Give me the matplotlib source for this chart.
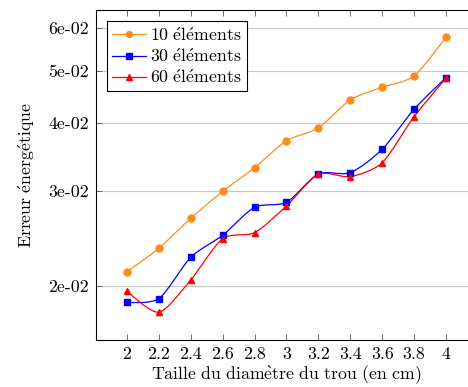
import numpy as np
import matplotlib
matplotlib.use("Agg")
import matplotlib.pyplot as plt
from matplotlib.path import Path
from matplotlib.patches import PathPatch
from matplotlib.lines import Line2D
from matplotlib.ticker import NullLocator

diametres = [2.0, 2.2, 2.4, 2.6, 2.8, 3.0, 3.2, 3.4, 3.6, 3.8, 4.0]

erreur_10 = [0.02126, 0.02348, 0.02668, 0.02993, 0.0331, 0.03713,
             0.0392, 0.04416, 0.04662, 0.04892, 0.05768]
erreur_30 = [0.01866, 0.01895, 0.0226, 0.02482, 0.02796, 0.02857,
             0.03223, 0.0324, 0.0358, 0.04245, 0.04856]
erreur_60 = [0.01958, 0.01788, 0.02052, 0.02447, 0.0251, 0.02812,
             0.03218, 0.03186, 0.03381, 0.04113, 0.04844]

y_ticks = [0.02, 0.03, 0.04, 0.05, 0.06]
y_tick_labels = ["2e-02", "3e-02", "4e-02", "5e-02", "6e-02"]
x_tick_labels = ["2", "2.2", "2.4", "2.6", "2.8", "3", "3.2", "3.4", "3.6", "3.8", "4"]

# textes avec accents en mathtext (police Computer Modern)
noms_series = [r"$\mathrm{10\ \acute{e}l\acute{e}ments}$",
               r"$\mathrm{30\ \acute{e}l\acute{e}ments}$",
               r"$\mathrm{60\ \acute{e}l\acute{e}ments}$"]
titre_x = r"$\mathrm{Taille\ du\ diam\grave{e}tre\ du\ trou\ (en\ cm)}$"
titre_y = r"$\mathrm{Erreur\ \acute{e}nerg\acute{e}tique}$"


def smooth_path(x, y, k=0.13):
    # courbe de Bezier comme "smooth" de TikZ, calculee en espace log pour y
    px = np.array(x, dtype=float)
    py = np.log(np.array(y, dtype=float))
    n = len(px)
    verts = [(px[0], py[0])]
    codes = [Path.MOVETO]
    for i in range(n - 1):
        if i == 0:
            c1 = (px[0], py[0])
        else:
            c1 = (px[i] + k * (px[i + 1] - px[i - 1]),
                  py[i] + k * (py[i + 1] - py[i - 1]))
        if i + 1 == n - 1:
            c2 = (px[i + 1], py[i + 1])
        else:
            c2 = (px[i + 1] - k * (px[i + 2] - px[i]),
                  py[i + 1] - k * (py[i + 2] - py[i]))
        verts += [c1, c2, (px[i + 1], py[i + 1])]
        codes += [Path.CURVE4] * 3
    verts = [(vx, np.exp(vy)) for vx, vy in verts]
    return Path(verts, codes)


def main():
    plt.rcParams['font.family'] = ['cmr10', 'DejaVu Serif']
    plt.rcParams['mathtext.fontset'] = 'cm'
    plt.rcParams['font.size'] = 12.8
    plt.rcParams['axes.unicode_minus'] = False

    fig = plt.figure(figsize=(4.68, 3.87), dpi=100)
    ax = fig.add_axes([96 / 468, 47 / 387, 0.8139, 330 / 387])
    ax.set_yscale("log")

    series = [
        (erreur_10, "#ff8c1a", "o", 5.0),
        (erreur_30, "#0000ff", "s", 4.6),
        (erreur_60, "#ff0000", "^", 5.0),
    ]
    handles = []
    for (values, color, marker, ms), label in zip(series, noms_series):
        patch = PathPatch(smooth_path(diametres, values), facecolor="none",
                          edgecolor=color, lw=0.9, zorder=2)
        ax.add_patch(patch)
        ax.plot(diametres, values, ls="none", marker=marker, ms=ms,
                color=color, zorder=3)
        handles.append(Line2D([], [], color=color, lw=0.9, marker=marker,
                              ms=ms * 0.85, label=label))

    ax.set_xlim(1.806, 4.194)
    ax.set_ylim(0.01589, 0.06478)
    ax.set_xticks(diametres)
    ax.set_xticklabels(x_tick_labels)
    ax.set_yticks(y_ticks)
    ax.set_yticklabels(y_tick_labels)
    ax.yaxis.set_minor_locator(NullLocator())
    ax.tick_params(direction="in", top=True, right=True, length=4,
                   width=0.6, color="#555555", pad=5)
    ax.grid(axis="y", color="#c8c8c8", lw=0.8)
    ax.set_axisbelow(True)
    for s in ax.spines.values():
        s.set_linewidth(0.8)

    ax.set_xlabel(titre_x, labelpad=1)
    ax.set_ylabel(titre_y, labelpad=8)

    leg = ax.legend(handles=handles, loc="upper left", fancybox=False,
                    framealpha=1, edgecolor="black", handlelength=1.9,
                    handletextpad=0.25, borderaxespad=0.6, borderpad=0.3,
                    labelspacing=0.2)
    leg.get_frame().set_linewidth(0.8)

    fig.savefig("out.png", dpi=100)


if __name__ == "__main__":
    main()
